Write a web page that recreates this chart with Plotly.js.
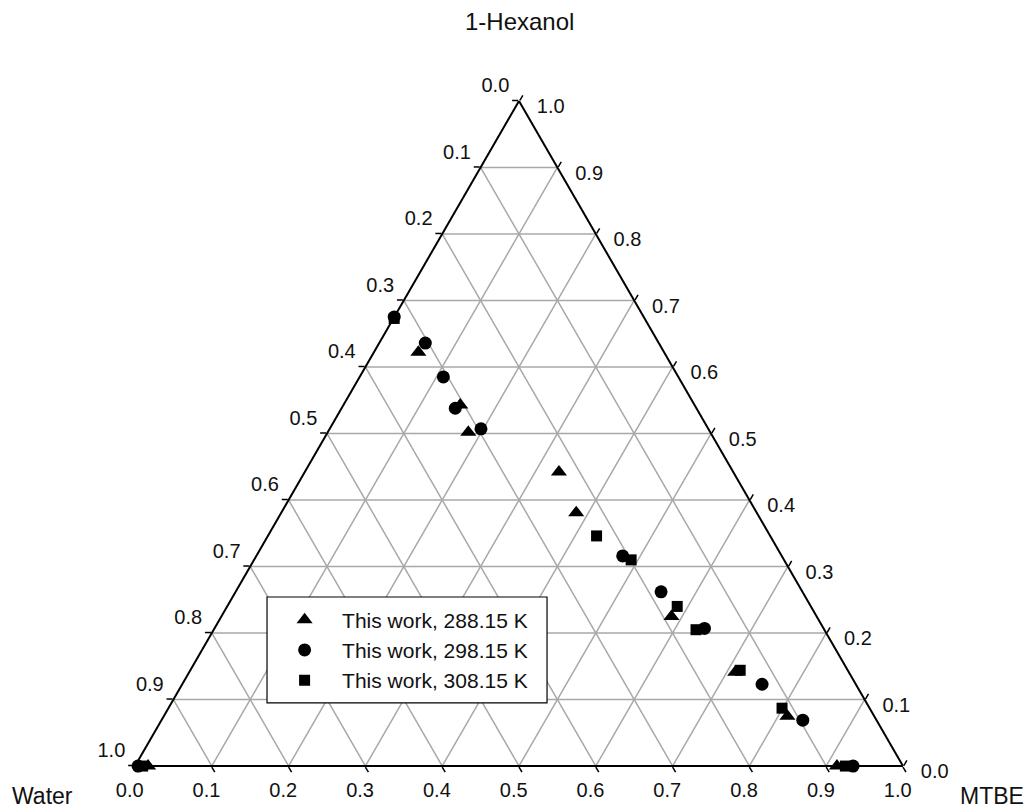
<!DOCTYPE html>
<html>
<head>
<meta charset="utf-8">
<script src="https://cdn.plot.ly/plotly-3.0.1.min.js"></script>
<style>html,body{margin:0;padding:0;background:#fff;}#chart{width:1031px;height:812px;}</style>
</head>
<body>
<div id="chart"></div>
<script>
// Series: This work, 288.15 K (triangles)
const hex288   = [0.622, 0.543, 0.502, 0.442, 0.381, 0.225, 0.141, 0.075, 0.000, 0.000];
const water288 = [0.320, 0.305, 0.315, 0.227, 0.235, 0.189, 0.148, 0.113, 0.086, 0.983];
const mtbe288  = [0.058, 0.152, 0.183, 0.331, 0.384, 0.586, 0.711, 0.812, 0.914, 0.017];
// Series: This work, 298.15 K (circles)
const hex298   = [0.675, 0.636, 0.585, 0.538, 0.507, 0.316, 0.262, 0.207, 0.123, 0.069, 0.000, 0.000];
const water298 = [0.325, 0.304, 0.306, 0.314, 0.296, 0.207, 0.184, 0.155, 0.122, 0.096, 0.065, 0.996];
const mtbe298  = [0.000, 0.060, 0.109, 0.148, 0.197, 0.477, 0.554, 0.638, 0.755, 0.835, 0.935, 0.004];
// Series: This work, 308.15 K (squares)
const hex308   = [0.673, 0.346, 0.310, 0.240, 0.205, 0.144, 0.087, 0.000, 0.000];
const water308 = [0.326, 0.226, 0.199, 0.174, 0.167, 0.140, 0.114, 0.075, 0.990];
const mtbe308  = [0.001, 0.428, 0.491, 0.586, 0.628, 0.716, 0.799, 0.925, 0.010];

const seriesNames = ['This work, 288.15 K', 'This work, 298.15 K', 'This work, 308.15 K'];
const componentNames = ['1-Hexanol', 'Water', 'MTBE'];

// Tick values and labels (each edge is labelled with the fraction of the component at its far vertex)
const tickVals = [0, 0.1, 0.2, 0.3, 0.4, 0.5, 0.6, 0.7, 0.8, 0.9, 1.0];
const tickLabelsReversed = ['1.0', '0.9', '0.8', '0.7', '0.6', '0.5', '0.4', '0.3', '0.2', '0.1', '0.0'];

const FONT = 'Liberation Sans, Arial, sans-serif';
const NB = '\u00A0';

function tr(a, b, c, name, symbol, size) {
  return {
    type: 'scatterternary', mode: 'markers', name: name,
    a: a, b: b, c: c, cliponaxis: false,
    marker: {symbol: symbol, size: size, color: '#000', line: {width: 0}}
  };
}

const data = [
  tr(hex288, water288, mtbe288, seriesNames[0], 'triangle-up', 14),
  tr(hex298, water298, mtbe298, seriesNames[1], 'circle', 13),
  tr(hex308, water308, mtbe308, seriesNames[2], 'square', 11)
];

function axis(labels) {
  return {
    title: {text: ''},
    min: 0,
    tickmode: 'array', tickvals: tickVals, ticktext: labels,
    ticks: 'outside', ticklen: 6, tickwidth: 1.5, tickcolor: '#000',
    tickfont: {family: FONT, size: 20, color: '#111'},
    showline: true, linecolor: '#000', linewidth: 2,
    showgrid: true, gridcolor: '#a8a8a8', gridwidth: 1.5
  };
}

// small label offsets to follow the reference placement
const leftLabels = tickLabelsReversed.map(t => t + '<br> ');
const bottomLabels = tickLabelsReversed.map(t => t + NB + NB + NB);
const rightLabels = tickLabelsReversed.map(t => ' <br>' + NB + NB + t);

const layout = {
  width: 1031, height: 812,
  margin: {l: 135, r: 128, t: 100, b: 45},
  paper_bgcolor: '#fff',
  font: {family: FONT, color: '#111'},
  showlegend: true,
  legend: {
    x: 0.172, y: 0.1754, xanchor: 'left', yanchor: 'middle',
    bgcolor: 'rgba(0,0,0,0)', borderwidth: 0,
    font: {family: FONT, size: 21, color: '#111'},
    itemwidth: 65
  },
  shapes: [
    {type: 'rect', xref: 'paper', yref: 'paper', x0: 0.1719, x1: 0.5365, y0: 0.096, y1: 0.2549,
     fillcolor: '#fff', line: {color: '#000', width: 1.2}, layer: 'above'}
  ],
  ternary: {
    sum: 1,
    bgcolor: '#fff',
    aaxis: axis(leftLabels), baxis: axis(bottomLabels), caxis: axis(rightLabels)
  },
  annotations: [
    {text: componentNames[0], xref: 'paper', yref: 'paper', x: 0.501, y: 1.117, xanchor: 'center', yanchor: 'middle', showarrow: false, font: {family: FONT, size: 24, color: '#111'}},
    {text: componentNames[1], xref: 'paper', yref: 'paper', x: -0.12, y: -0.0435, xanchor: 'center', yanchor: 'middle', showarrow: false, font: {family: FONT, size: 23, color: '#111'}},
    {text: componentNames[2], xref: 'paper', yref: 'paper', x: 1.116, y: -0.0435, xanchor: 'center', yanchor: 'middle', showarrow: false, font: {family: FONT, size: 23, color: '#111'}}
  ]
};

Plotly.newPlot('chart', data, layout, {displayModeBar: false, staticPlot: true});
</script>
</body>
</html>
